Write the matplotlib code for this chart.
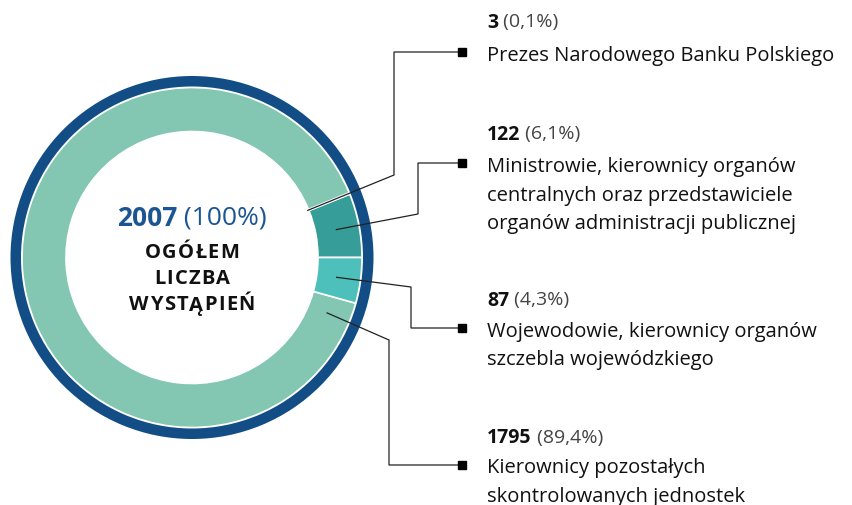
import matplotlib
matplotlib.use("Agg")
import matplotlib.pyplot as plt
from matplotlib.patches import Wedge
import numpy as np

plt.rcParams['font.family'] = ['Open Sans', 'DejaVu Sans']

# data (counter-clockwise from 3 o'clock)
counts = [122, 3, 1795, 87]
shares = ['6,1%', '0,1%', '89,4%', '4,3%']
labels = [
    ['Ministrowie, kierownicy organów', 'centralnych oraz przedstawiciele', 'organów administracji publicznej'],
    ['Prezes Narodowego Banku Polskiego'],
    ['Kierownicy pozostałych', 'skontrolowanych jednostek'],
    ['Wojewodowie, kierownicy organów', 'szczebla wojewódzkiego'],
]
colors = ['#379d98', '#83c6b1', '#83c6b1', '#4ec0bc']
total = 2007
total_share = '100%'
center_lines = ['OGÓŁEM', 'LICZBA', 'WYSTĄPIEŃ']

W, H = 852, 506
cx, cy = 192, 258.5
fig = plt.figure(figsize=(W / 100, H / 100), dpi=100)
ax = fig.add_axes([0, 0, 1, 1])
r = fig.canvas.get_renderer()

# y axis inverted -> counterclock=False draws visually counter-clockwise
ax.pie(counts, colors=colors, startangle=0, counterclock=False, center=(cx, cy),
       radius=170, wedgeprops=dict(width=44, edgecolor='white', linewidth=1.2))
ax.add_patch(Wedge((cx, cy), 181.5, 0, 360, width=10.5, facecolor='#134d86', edgecolor='none'))
ax.set_xlim(0, W)
ax.set_ylim(H, 0)
ax.set_aspect('equal')
ax.axis('off')


def spaced(s, x, y, track, **kw):
    # draw letters one by one with extra tracking, centred on x
    ts = [ax.text(0, y, ch, va='center_baseline', **kw) for ch in s]
    ws = [t.get_window_extent(r).width for t in ts]
    tot = sum(ws) + track * (len(s) - 1)
    px = x - tot / 2
    for t, w in zip(ts, ws):
        t.set_x(px)
        px += w + track


# center text
blue = '#1b5592'
t1 = ax.text(0, 215, str(total), color=blue, fontsize=19, fontweight='bold', va='center_baseline')
t2 = ax.text(0, 215, ' (' + total_share + ')', color=blue, fontsize=19, va='center_baseline')
w1 = t1.get_window_extent(r).width
w2 = t2.get_window_extent(r).width
t1.set_x(cx - (w1 + w2) / 2)
t2.set_x(cx - (w1 + w2) / 2 + w1)
for i, s in enumerate(center_lines):
    spaced(s, cx, 250 + i * 26.5, 1.2, fontsize=14.5, fontweight='bold', color='#111111')

# leaders: visual angle & radius of start, elbow point, marker/text rows
mids = []
cum = 0
for c in counts:
    mids.append((cum + c / 2) / sum(counts) * 360)
    cum += c
start_ang = [mids[0], mids[1], -22.3, mids[3] - 360]
start_rad = [147, 125, 146, 146]
elbow = [(418, 215), (394, 176), (389, 341), (411, 288)]
row_y = [164, 53, 466, 329]
head_y = [132, 20, 436, 298]
tx = 487
for k in range(4):
    a = np.deg2rad(start_ang[k])
    sx = cx + start_rad[k] * np.cos(a)
    sy = cy - start_rad[k] * np.sin(a)
    ex, ey = elbow[k]
    ax.plot([sx, ex, ex, 462], [sy, ey, row_y[k], row_y[k]], color='#222222', lw=0.9,
            solid_joinstyle='miter')
    ax.plot([462], [row_y[k]], marker='s', color='black', markersize=6)
    h1 = ax.text(tx, head_y[k], str(counts[k]), fontsize=14, fontweight='bold',
                 color='#111111', va='center_baseline')
    hw = h1.get_window_extent(r).width
    ax.text(tx + hw, head_y[k], ' (' + shares[k] + ')', fontsize=14, color='#444444',
            va='center_baseline')
    for i, line in enumerate(labels[k]):
        ax.text(tx, row_y[k] + i * 29, line, fontsize=14.5, color='#111111', va='center_baseline')

fig.savefig('out.png', dpi=100)
